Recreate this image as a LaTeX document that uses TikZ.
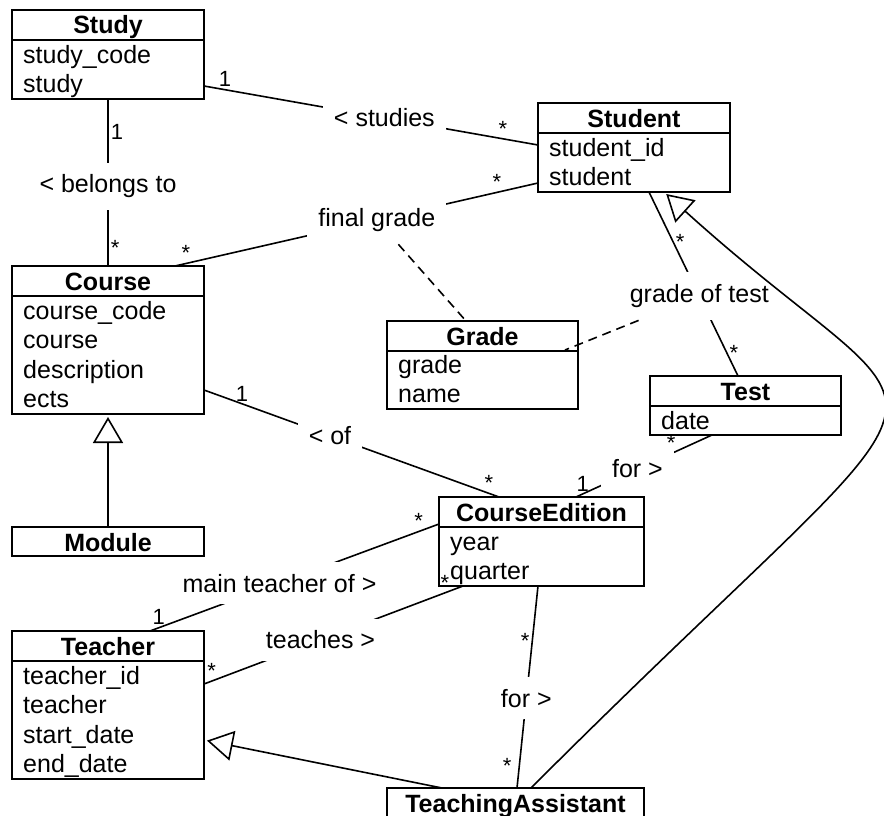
\documentclass[tikz,border=0pt]{standalone}
\usepackage{fontspec}
\setmainfont{Liberation Sans}
\usetikzlibrary{arrows.meta,calc}
\tikzset{
  clsbox/.style={draw, line width=2pt, rectangle, anchor=north west, inner sep=0pt, outer sep=0pt},
  clsname/.style={anchor=base, inner sep=0pt, font=\fontsize{25}{30}\selectfont\bfseries},
  clsattr/.style={anchor=base west, inner sep=0pt, align=left, font=\fontsize{25}{29.6}\selectfont},
  assoc/.style={fill=white, inner xsep=11pt, inner ysep=12pt, font=\fontsize{25}{30}\selectfont},
  mult/.style={inner sep=2pt, font=\fontsize{22}{26}\selectfont},
  link/.style={line width=1.6pt},
  isa/.style={line width=1.6pt, -{Triangle[open, length=26pt, width=30pt]}, shorten >=3pt}
}
\begin{document}
\begin{tikzpicture}[x=1pt, y=-1pt]
\useasboundingbox (0,0) rectangle (884,816);
% classes (attribute nodes sit on the baseline of their last line)
\node[clsbox, minimum width=192pt, minimum height=89pt] (study) at (12,10) {};
\node[clsname] (studyT) at ($(study.north)+(0,24)$) {Study};
\draw[line width=2pt] ($(study.north west)+(0,30)$) -- ($(study.north east)+(0,30)$);
\node[clsattr] (studyR) at ($(study.north west)+(11,82.6)$) {study\_code\\study};

\node[clsbox, minimum width=192pt, minimum height=89pt] (student) at (538,103) {};
\node[clsname] (studentT) at ($(student.north)+(0,24)$) {Student};
\draw[line width=2pt] ($(student.north west)+(0,30)$) -- ($(student.north east)+(0,30)$);
\node[clsattr] (studentR) at ($(student.north west)+(11,82.6)$) {student\_id\\student};

\node[clsbox, minimum width=192pt, minimum height=148pt] (course) at (12,266) {};
\node[clsname] (courseT) at ($(course.north)+(0,24)$) {Course};
\draw[line width=2pt] ($(course.north west)+(0,30)$) -- ($(course.north east)+(0,30)$);
\node[clsattr] (courseR) at ($(course.north west)+(11,141.8)$) {course\_code\\course\\description\\ects};

\node[clsbox, minimum width=191pt, minimum height=88pt] (grade) at (387,321) {};
\node[clsname] (gradeT) at ($(grade.north)+(0,24)$) {Grade};
\draw[line width=2pt] ($(grade.north west)+(0,30)$) -- ($(grade.north east)+(0,30)$);
\node[clsattr] (gradeR) at ($(grade.north west)+(11,81.6)$) {grade\\name};

\node[clsbox, minimum width=191pt, minimum height=59pt] (test) at (650,376) {};
\node[clsname] (testT) at ($(test.north)+(0,24)$) {Test};
\draw[line width=2pt] ($(test.north west)+(0,30)$) -- ($(test.north east)+(0,30)$);
\node[clsattr] (testR) at ($(test.north west)+(11,53)$) {date};

\node[clsbox, minimum width=192pt, minimum height=29pt] (module) at (12,527) {};
\node[clsname] (moduleT) at ($(module.north)+(0,24)$) {Module};

\node[clsbox, minimum width=205pt, minimum height=89pt] (edition) at (439,497) {};
\node[clsname] (editionT) at ($(edition.north)+(0,24)$) {CourseEdition};
\draw[line width=2pt] ($(edition.north west)+(0,30)$) -- ($(edition.north east)+(0,30)$);
\node[clsattr] (editionR) at ($(edition.north west)+(11,82.6)$) {year\\quarter};

\node[clsbox, minimum width=192pt, minimum height=148pt] (teacher) at (12,631) {};
\node[clsname] (teacherT) at ($(teacher.north)+(0,24)$) {Teacher};
\draw[line width=2pt] ($(teacher.north west)+(0,30)$) -- ($(teacher.north east)+(0,30)$);
\node[clsattr] (teacherR) at ($(teacher.north west)+(11,141.8)$) {teacher\_id\\teacher\\start\_date\\end\_date};

\node[clsbox, minimum width=257pt, minimum height=32pt] (assistant) at (387,788) {};
\node[clsname] (assistantT) at ($(assistant.north)+(0,24)$) {TeachingAssistant};

% associations
\draw[link] ($(study.north west)+(192,76)$) -- ($(student.north west)+(0,42)$)
  node[assoc, pos=0.54] (studies) {< studies}
  node[mult, pos=0.063, above] (studiesA) {1}
  node[mult, pos=0.895, above] (studiesB) {*};
\draw[link] (study.south) -- (course.north)
  node[assoc, pos=0.524] (belongs) {< belongs to}
  node[mult, pos=0.2, right] (belongsA) {1}
  node[mult, pos=0.89, right] (belongsB) {*};
\draw[link] ($(course.north west)+(163,0)$) -- ($(student.north west)+(0,80)$)
  node[assoc, pos=0.556] (final) {final grade}
  node[mult, pos=0.03, above] (finalA) {*}
  node[mult, pos=0.887, above] (finalB) {*};
\draw[link] ($(student.north west)+(111,89)$) -- ($(test.north west)+(88,0)$)
  node[assoc, pos=0.565] (gradeof) {grade of test}
  node[mult, pos=0.27, right] (gradeofA) {*}
  node[mult, pos=0.875, right] (gradeofB) {*};
\draw[link] ($(course.north west)+(192,124)$) -- ($(edition.north west)+(60,0)$)
  node[assoc, pos=0.427] (of) {< of}
  node[mult, pos=0.129, above] (ofA) {1}
  node[mult, pos=0.966, above] (ofB) {*};
\draw[link] ($(edition.north west)+(137,0)$) -- ($(test.north west)+(62,59)$)
  node[assoc, pos=0.452] (fortest) {for >}
  node[mult, pos=0.05, above] (fortestA) {1}
  node[mult, pos=0.7, above] (fortestB) {*};
\draw[link] ($(teacher.north west)+(138,0)$) -- ($(edition.north west)+(0,27)$)
  node[assoc, pos=0.448] (main) {main teacher of >}
  node[mult, pos=0.03, above] (mainA) {1}
  node[mult, pos=0.93, above] (mainB) {*};
\draw[link] ($(teacher.north west)+(192,53)$) -- ($(edition.north west)+(24,89)$)
  node[assoc, pos=0.45] (teaches) {teaches >}
  node[mult, pos=0.03, above] (teachesA) {*}
  node[mult, pos=0.93, above] (teachesB) {*};
\draw[link] ($(edition.north west)+(99,89)$) -- ($(assistant.north west)+(130,0)$)
  node[assoc, pos=0.555] (forta) {for >}
  node[mult, pos=0.27, left] (fortaA) {*}
  node[mult, pos=0.89, left, xshift=-5pt] (fortaB) {*};

% association classes
\draw[link, dash pattern=on 9pt off 6pt] (final) -- ($(grade.north west)+(79,0)$);
\draw[link, dash pattern=on 9pt off 6pt] (gradeof) -- ($(grade.north west)+(178,29)$);

% generalisations
\draw[isa] (module.north) -- (course.south);
\draw[isa] ($(assistant.north west)+(55,0)$) -- ($(teacher.north west)+(192,109)$);
\draw[isa] ($(assistant.north west)+(144,0)$) .. controls (992,327) and (960,460) .. ($(student.north west)+(126,89)$);
\end{tikzpicture}
\end{document}
